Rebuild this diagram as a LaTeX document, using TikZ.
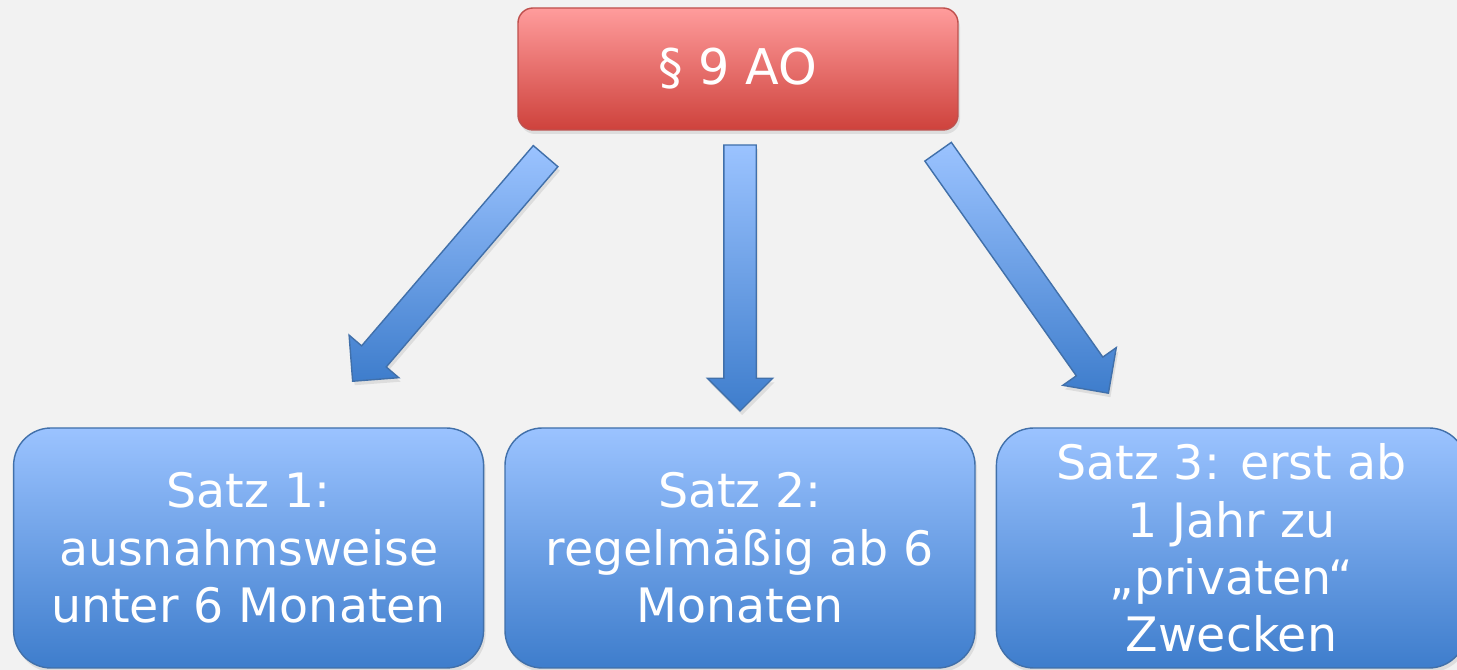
\documentclass[tikz,border=0pt]{standalone}
\usepackage{fontspec}
\setmainfont{DejaVu Sans}
\usetikzlibrary{positioning,shapes.arrows,shadows}

\definecolor{bg}{RGB}{242,242,242}
\definecolor{redtop}{RGB}{255,156,156}
\definecolor{redbot}{RGB}{206,66,60}
\definecolor{redline}{RGB}{190,80,77}
\definecolor{bluetop}{RGB}{155,195,255}
\definecolor{bluebot}{RGB}{62,125,204}
\definecolor{blueline}{RGB}{65,112,170}

\tikzset{
  softshadow/.style={drop shadow={opacity=0.18,shadow xshift=0.04cm,shadow yshift=-0.08cm}},
  lawbox/.style={rounded corners=0.3cm, draw=redline, line width=0.8pt,
    top color=redtop, bottom color=redbot, softshadow,
    minimum width=8.8cm, minimum height=2.44cm, inner sep=0pt,
    text=white, font=\fontsize{28}{34}\selectfont},
  satzbox/.style={rounded corners=0.75cm, draw=blueline, line width=0.8pt,
    top color=bluetop, bottom color=bluebot, softshadow,
    minimum width=9.4cm, minimum height=4.8cm, inner sep=0pt, align=center,
    text=white, font=\fontsize{27}{32.6}\selectfont},
  blockarrow/.style={single arrow, draw=blueline, line width=0.8pt,
    top color=bluetop, bottom color=bluebot, softshadow, anchor=tip,
    minimum height=#1, single arrow head extend=0.33cm,
    inner xsep=0pt, inner ysep=0.31cm, text width=0pt, text height=0pt, text depth=0pt}
}

\begin{document}
\begin{tikzpicture}
\useasboundingbox (0,0) rectangle (29.14,13.4);
\clip (0,0) rectangle (29.14,13.4);
\fill[bg] (0,0) rectangle (29.14,13.4);

% top
\node[lawbox] (ao) at (14.76,12.02) {§ 9 AO};

% the three sentences
\node[satzbox] (satz2) at (14.8,2.44) {Satz 2:\\regelmäßig ab 6\\Monaten};
\node[satzbox, left=0.4cm of satz2] (satz1) {Satz 1:\\ausnahmsweise\\unter 6 Monaten};
\node[satzbox, right=0.4cm of satz2] (satz3) {Satz 3: erst ab\\1 Jahr zu\\„privaten“\\Zwecken};

% arrows, placed at their tips
\node[blockarrow=5.93cm, rotate=-130.6] (arr1) at (7.04,5.76) {};
\node[blockarrow=5.32cm, rotate=-90] (arr2) at (14.8,5.16) {};
\node[blockarrow=5.91cm, rotate=-54.8] (arr3) at (22.18,5.52) {};
\end{tikzpicture}
\end{document}
